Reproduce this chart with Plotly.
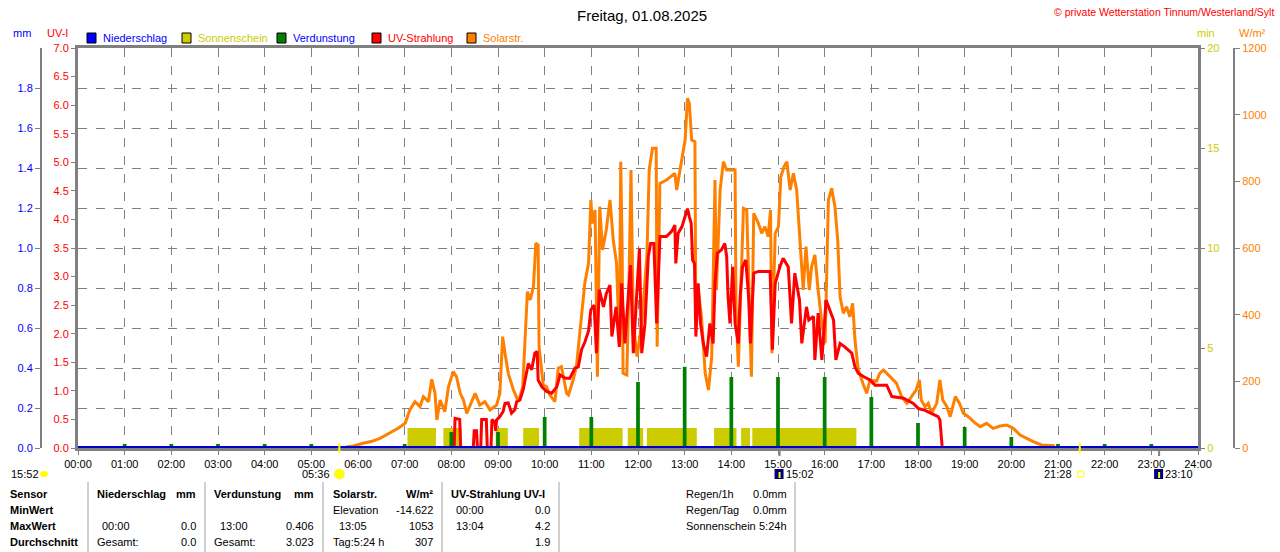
import plotly.graph_objects as go

# --- data ---
# solar radiation W/m2 (time in hours)
solar_t = [5.74, 5.90, 6.11, 6.30, 6.47, 6.72, 6.86, 7.01, 7.11, 7.22, 7.33, 7.40, 7.51, 7.58, 7.65, 7.69,
           7.76, 7.86, 7.94, 8.04, 8.11, 8.19, 8.26, 8.33, 8.40, 8.51, 8.61, 8.72, 8.83, 8.97, 9.04, 9.10,
           9.15, 9.22, 9.33, 9.44, 9.53, 9.58, 9.63, 9.69, 9.76, 9.81, 9.86, 9.88, 9.97, 10.04, 10.11, 10.22,
           10.29, 10.36, 10.47, 10.51, 10.61, 10.68, 10.76, 10.86, 10.94, 10.99, 11.02, 11.08, 11.13, 11.18,
           11.24, 11.32, 11.40, 11.47, 11.54, 11.60, 11.63, 11.66, 11.68, 11.76, 11.81, 11.85, 11.90, 11.98,
           12.08, 12.19, 12.24, 12.31, 12.39, 12.41, 12.47, 12.61, 12.79, 12.83, 12.90, 12.97, 13.01, 13.06,
           13.10, 13.15, 13.22, 13.24, 13.29, 13.36, 13.44, 13.51, 13.58, 13.65, 13.68, 13.76, 13.83, 13.90,
           14.08, 14.10, 14.15, 14.19, 14.26, 14.33, 14.40, 14.43, 14.48, 14.58, 14.65, 14.72, 14.79, 14.84,
           14.87, 14.94, 15.01, 15.06, 15.13, 15.19, 15.26, 15.33, 15.40, 15.47, 15.54, 15.60, 15.67, 15.72,
           15.79, 15.86, 15.94, 16.01, 16.08, 16.15, 16.22, 16.28, 16.33, 16.40, 16.47, 16.54, 16.60, 16.65,
           16.72, 16.83, 16.90, 16.97, 17.11, 17.18, 17.26, 17.40, 17.54, 17.65, 17.76, 17.86, 17.96, 18.03,
           18.07, 18.15, 18.22, 18.29, 18.40, 18.47, 18.53, 18.62, 18.69, 18.80, 18.89, 18.97, 19.08, 19.19,
           19.33, 19.47, 19.61, 19.76, 19.90, 20.04, 20.19, 20.33, 20.47, 20.65, 20.93]
solar_w = [3, 6, 14, 20, 29, 49, 59, 74, 114, 139, 124, 154, 139, 206, 164, 84,
           144, 109, 184, 229, 214, 164, 144, 104, 129, 164, 129, 139, 114, 129, 164, 334,
           284, 224, 174, 139, 184, 314, 469, 444, 484, 614, 609, 304, 189, 184, 159, 139,
           239, 244, 164, 159, 204, 244, 354, 494, 554, 744, 674, 714, 214, 724,
           594, 654, 744, 624, 554, 314, 859, 604, 224, 219, 514, 834, 374, 274,
           374, 574, 834, 899, 899, 304, 794, 804, 824, 774, 834, 889, 924, 1049,
           1034, 924, 919, 374, 474, 394, 224, 174, 274, 804, 474, 774, 859, 834,
           834, 424, 244, 424, 719, 714, 374, 214, 704, 674, 644, 664, 634, 714,
           284, 644, 664, 814, 844, 859, 774, 824, 774, 624, 474, 604, 474, 544,
           579, 474, 374, 314, 744, 779, 724, 624, 454, 404, 424, 394, 434, 324,
           234, 190, 164, 204, 200, 224, 234, 214, 194, 154, 134, 154, 174, 204,
           144, 124, 134, 104, 134, 204, 144, 124, 94, 154, 134, 104, 94, 79,
           64, 74, 59, 66, 69, 59, 39, 29, 19, 9, 7]

# UV index
uv_t = [8.00, 8.06, 8.08, 8.18, 8.20, 8.47, 8.49, 8.54, 8.56, 8.63, 8.65, 8.75, 8.77, 8.85, 8.87, 8.93,
        8.95, 8.97, 9.04, 9.11, 9.15, 9.22, 9.29, 9.36, 9.40, 9.47, 9.54, 9.61, 9.65, 9.72, 9.79, 9.84,
        9.86, 9.94, 10.04, 10.15, 10.26, 10.33, 10.44, 10.54, 10.65, 10.72, 10.79, 10.86, 10.94, 10.99,
        11.06, 11.11, 11.17, 11.26, 11.32, 11.40, 11.44, 11.53, 11.60, 11.65, 11.72, 11.79, 11.84, 11.90,
        11.97, 12.03, 12.08, 12.15, 12.22, 12.27, 12.34, 12.40, 12.47, 12.61, 12.72, 12.79, 12.81, 12.86,
        12.94, 13.01, 13.06, 13.10, 13.14, 13.17, 13.21, 13.24, 13.29, 13.34, 13.40, 13.47, 13.54, 13.61,
        13.65, 13.70, 13.79, 13.86, 13.90, 13.93, 13.97, 14.03, 14.08, 14.15, 14.19, 14.24, 14.31, 14.37,
        14.41, 14.48, 14.58, 14.83, 14.88, 14.94, 15.04, 15.11, 15.22, 15.29, 15.36, 15.46, 15.51, 15.61,
        15.66, 15.76, 15.79, 15.86, 15.94, 16.03, 16.11, 16.19, 16.24, 16.33, 16.43, 16.50, 16.58, 16.65,
        16.72, 16.83, 16.97, 17.08, 17.33, 17.44, 17.69, 17.90, 18.01, 18.15, 18.33, 18.43, 18.47, 18.51,
        18.52]
uv_i = [0.0, 0.0, 0.52, 0.50, 0.0, 0.0, 0.30, 0.30, 0.0, 0.0, 0.50, 0.50, 0.0, 0.0, 0.50, 0.45,
        0.30, 0.49, 0.55, 0.64, 0.78, 0.79, 0.61, 0.67, 0.81, 0.84, 1.02, 1.31, 1.48, 1.37, 1.66, 1.69,
        1.19, 1.07, 0.99, 0.96, 1.07, 1.28, 1.22, 1.22, 1.40, 1.42, 1.72, 1.85, 2.05, 2.42,
        2.50, 1.66, 2.77, 2.47, 2.70, 2.85, 1.95, 2.47, 1.77, 2.88, 1.83, 2.65, 3.20, 1.66,
        2.65, 3.49, 1.66, 2.18, 3.35, 3.58, 3.58, 2.18, 3.70, 3.70, 3.79, 3.90, 3.23, 3.76,
        3.87, 4.08, 4.19, 4.05, 3.93, 3.29, 3.23, 1.95, 2.88, 2.18, 1.83, 1.60, 2.18, 1.83,
        2.88, 3.41, 3.47, 3.58, 3.35, 2.65, 2.18, 3.17, 2.18, 1.83, 2.65, 3.17, 3.29, 2.65,
        1.83, 3.06, 3.09, 3.09, 1.72, 2.88, 3.17, 3.32, 3.17, 2.18, 3.06, 2.59, 1.83, 2.47,
        2.24, 2.30, 1.54, 2.36, 1.54, 2.59, 2.42, 2.24, 1.54, 1.83, 1.77, 1.72, 1.66, 1.42,
        1.31, 1.25, 1.19, 1.10, 1.10, 0.90, 0.87, 0.78, 0.69, 0.66, 0.58, 0.55, 0.49, 0.05,
        0.0]

# sunshine blocks (start / end in hours, minutes of sun per minute)
sun_start = [7.06, 7.83, 8.95, 9.54, 10.74, 11.78, 12.19, 13.63, 14.21, 14.45]
sun_end = [7.67, 8.22, 9.21, 9.88, 11.67, 12.11, 13.26, 14.11, 14.40, 16.68]
sun_min = [1.0, 1.0, 1.0, 1.0, 1.0, 1.0, 1.0, 1.0, 1.0, 1.0]

# evaporation per hour (mm)
evap_h = [1, 2, 3, 4, 5, 7, 8, 9, 10, 11, 12, 13, 14, 15, 16, 17, 18, 19, 20, 21, 22, 23]
evap_mm = [0.02, 0.02, 0.02, 0.02, 0.02, 0.02, 0.08, 0.08, 0.155, 0.155, 0.33, 0.406, 0.355, 0.355,
           0.355, 0.255, 0.125, 0.105, 0.055, 0.02, 0.02, 0.02]

# precipitation (mm)
rain_h = [0, 3, 6, 9, 12, 15, 18, 21, 24]
rain_mm = [0.0, 0.0, 0.0, 0.0, 0.0, 0.0, 0.0, 0.0, 0.0]

hours = list(range(25))
hour_labels = ["%02d:00" % h for h in hours]

# sun / moon events
sunrise, sunset = 5.6, 21.4667
moonrise, moonset = 15.0333, 23.1667
day_length = "15:52"

table_rows = ["Sensor", "MinWert", "MaxWert", "Durchschnitt"]

W, H = 1280, 552
FONT = "Liberation Sans, Arial, sans-serif"
GREY = "#808080"
YEL = "#cccc00"
ORANGE = "#ff8000"


def px(x):
    return x / W


def py(y):
    return 1 - y / H


fig = go.Figure()

fig.add_trace(go.Bar(x=sun_start, y=sun_min, width=[e - s for s, e in zip(sun_start, sun_end)],
                     offset=0, marker=dict(color=YEL, line=dict(width=0)), yaxis="y"))
fig.add_trace(go.Scatter(x=solar_t, y=solar_w, mode="lines", line=dict(color=ORANGE, width=3),
                         yaxis="y2"))
fig.add_trace(go.Scatter(x=uv_t, y=uv_i, mode="lines", line=dict(color="#ff0000", width=3),
                         yaxis="y3"))
fig.add_trace(go.Bar(x=evap_h, y=evap_mm, width=0.08, marker=dict(color="#008000", line=dict(width=0)),
                     yaxis="y4"))
fig.add_trace(go.Scatter(x=rain_h, y=rain_mm, mode="lines", line=dict(color="#0000cc", width=4),
                         yaxis="y4"))

dom_y = [py(448), py(48)]
tf = dict(family=FONT, size=11)

fig.update_layout(
    width=W, height=H, margin=dict(l=0, r=0, t=0, b=0, pad=0),
    paper_bgcolor="white", plot_bgcolor="white",
    showlegend=False, barmode="overlay", hovermode=False,
    font=dict(family=FONT, size=11, color="black"),
    xaxis=dict(domain=[px(78), px(1198)], range=[0, 24], tickvals=hours, ticktext=hour_labels,
               showgrid=True, gridcolor=GREY, griddash="dash", gridwidth=1,
               showline=True, linecolor=GREY, linewidth=3, mirror=True, layer="below traces",
               ticks="outside", ticklen=4, tickcolor=GREY, tickfont=dict(tf, color="black"),
               zeroline=False, anchor="y", automargin=False),
    yaxis=dict(domain=dom_y, range=[0, 20], tickvals=[0, 5, 10, 15, 20], side="right", anchor="x",
               showgrid=False, zeroline=False, showline=True, linecolor=GREY, linewidth=3,
               ticks="outside", ticklen=4, tickcolor=GREY, tickfont=dict(tf, color=YEL),
               automargin=False, layer="below traces"),
    yaxis2=dict(range=[0, 1200], dtick=200, overlaying="y", side="right", anchor="free",
                position=px(1234), showgrid=False, zeroline=False, showline=True, linecolor=GREY,
                linewidth=2, ticks="outside", ticklen=5, tickcolor=GREY, tickfont=dict(tf, color=ORANGE),
                automargin=False),
    yaxis3=dict(range=[0, 7], dtick=0.5, tickformat=".1f", overlaying="y", side="left", anchor="x",
                showgrid=False, zeroline=False, showline=True, linecolor=GREY, linewidth=3,
                ticks="outside", ticklen=4, tickcolor=GREY, tickfont=dict(tf, color="#ff0000"),
                automargin=False, layer="below traces"),
    yaxis4=dict(range=[0, 2], tickvals=[0, 0.2, 0.4, 0.6, 0.8, 1.0, 1.2, 1.4, 1.6, 1.8], tickformat=".1f",
                overlaying="y", side="left", anchor="free", position=px(41),
                showgrid=True, gridcolor=GREY, griddash="dash", gridwidth=1, zeroline=False,
                showline=True, linecolor=GREY, linewidth=2, ticks="outside", ticklen=5, tickcolor=GREY,
                tickfont=dict(tf, color="#0000ff"), automargin=False),
)

ann = []
shapes = []


def text(x, y, s, color="black", anchor="left", size=11, bold=False, xref="paper", xshift=0):
    ann.append(dict(x=x, y=py(y), xref=xref, yref="paper", text="<b>%s</b>" % s if bold else s,
                    showarrow=False, xanchor=anchor, yanchor="middle", xshift=xshift,
                    font=dict(family=FONT, size=size, color=color)))


# title and header
text(px(642), 15, "Freitag, 01.08.2025", anchor="center", size=15)
text(px(1276), 12, "© private Wetterstation Tinnum/Westerland/Sylt", color="#ff0000", anchor="right", size=10.5)

# axis titles
text(px(22), 33, "mm", color="#0000ff", anchor="center")
text(px(57), 33, "UV-I", color="#ff0000", anchor="center")
text(px(1206), 33, "min", color=YEL, anchor="center")
text(px(1252), 33, "W/m²", color=ORANGE, anchor="center")

# legend
legend = [("Niederschlag", "#0000ff", "#0000ff", 87), ("Sonnenschein", YEL, YEL, 182),
          ("Verdunstung", "#008000", "#0000ff", 277), ("UV-Strahlung", "#ff0000", "#ff0000", 372),
          ("Solarstr.", ORANGE, ORANGE, 467)]
for name, box, tcol, x0 in legend:
    shapes.append(dict(type="rect", xref="paper", yref="paper", x0=px(x0), x1=px(x0 + 9),
                       y0=py(43), y1=py(33), fillcolor=box, line=dict(color="black", width=1)))
    text(px(x0 + 14), 38, name, color=tcol)

# sun / moon events below the time axis
for t in [sunrise, sunset]:
    shapes.append(dict(type="line", xref="x", yref="paper", x0=t, x1=t, y0=py(453), y1=py(443),
                       line=dict(color="#ffff00", width=2)))
for t in [moonrise, moonset]:
    shapes.append(dict(type="line", xref="x", yref="paper", x0=t, x1=t, y0=py(456), y1=py(448),
                       line=dict(color=GREY, width=2)))

shapes.append(dict(type="circle", xref="x", yref="paper", xsizemode="pixel", xanchor=sunrise,
                   x0=-5, x1=5, y0=py(479), y1=py(469), fillcolor="#ffff00", line=dict(color="#ffee66", width=1)))
text(sunrise, 474, "05:36", anchor="right", xref="x", xshift=-7)
shapes.append(dict(type="rect", xref="x", yref="paper", xsizemode="pixel", xanchor=sunset,
                   x0=-2, x1=4, y0=py(477), y1=py(471), fillcolor="white", line=dict(color="#ffff00", width=1)))
text(sunset, 474, "21:28", anchor="right", xref="x", xshift=-6)
for t, lab in [(moonrise, "15:02"), (moonset, "23:10")]:
    shapes.append(dict(type="rect", xref="x", yref="paper", xsizemode="pixel", xanchor=t,
                       x0=-5, x1=4, y0=py(479), y1=py(469), fillcolor="#000080", line=dict(width=0)))
    shapes.append(dict(type="rect", xref="x", yref="paper", xsizemode="pixel", xanchor=t,
                       x0=-1, x1=1, y0=py(478), y1=py(472), fillcolor="#ffff00", line=dict(width=0)))
    text(t, 474, lab, xref="x", xshift=4)
text(px(9), 474, day_length)
shapes.append(dict(type="circle", xref="paper", yref="paper", x0=px(40), x1=px(48), y0=py(477), y1=py(471),
                   fillcolor="#ffff00", line=dict(width=0)))

# statistics table
for x in [88, 205, 323, 442, 559, 795]:
    shapes.append(dict(type="line", xref="paper", yref="paper", x0=px(x), x1=px(x), y0=py(552), y1=py(482),
                       line=dict(color="#a0a0a0", width=1)))
row_y = [494, 510, 526, 542]
for s, y in zip(table_rows, row_y):
    text(px(8), y, s, bold=True)
text(px(95), 494, "Niederschlag", bold=True)
text(px(198), 494, "mm", bold=True, anchor="right")
text(px(212), 494, "Verdunstung", bold=True)
text(px(316), 494, "mm", bold=True, anchor="right")
text(px(331), 494, "Solarstr.", bold=True)
text(px(435), 494, "W/m²", bold=True, anchor="right")
text(px(449), 494, "UV-Strahlung UV-I", bold=True)

cells = [
    (331, 510, "Elevation", "left"), (435, 510, "-14.622", "right"),
    (454, 510, "00:00", "left"), (552, 510, "0.0", "right"),
    (100, 526, "00:00", "left"), (198, 526, "0.0", "right"),
    (218, 526, "13:00", "left"), (316, 526, "0.406", "right"),
    (337, 526, "13:05", "left"), (435, 526, "1053", "right"),
    (454, 526, "13:04", "left"), (552, 526, "4.2", "right"),
    (95, 542, "Gesamt:", "left"), (198, 542, "0.0", "right"),
    (212, 542, "Gesamt:", "left"), (316, 542, "3.023", "right"),
    (331, 542, "Tag:5:24 h", "left"), (435, 542, "307", "right"),
    (552, 542, "1.9", "right"),
    (684, 494, "Regen/1h", "left"), (789, 494, "0.0mm", "right"),
    (684, 510, "Regen/Tag", "left"), (789, 510, "0.0mm", "right"),
    (684, 526, "Sonnenschein", "left"), (789, 526, "5:24h", "right"),
]
for x, y, s, a in cells:
    text(px(x), y, s, anchor=a)

fig.update_layout(annotations=ann, shapes=shapes)
# the page's default body margin would shift the figure by 8 px
fig.write_html("out.html", config={"displayModeBar": False},
               post_script="document.body.style.margin='0';document.body.style.overflow='hidden';")
